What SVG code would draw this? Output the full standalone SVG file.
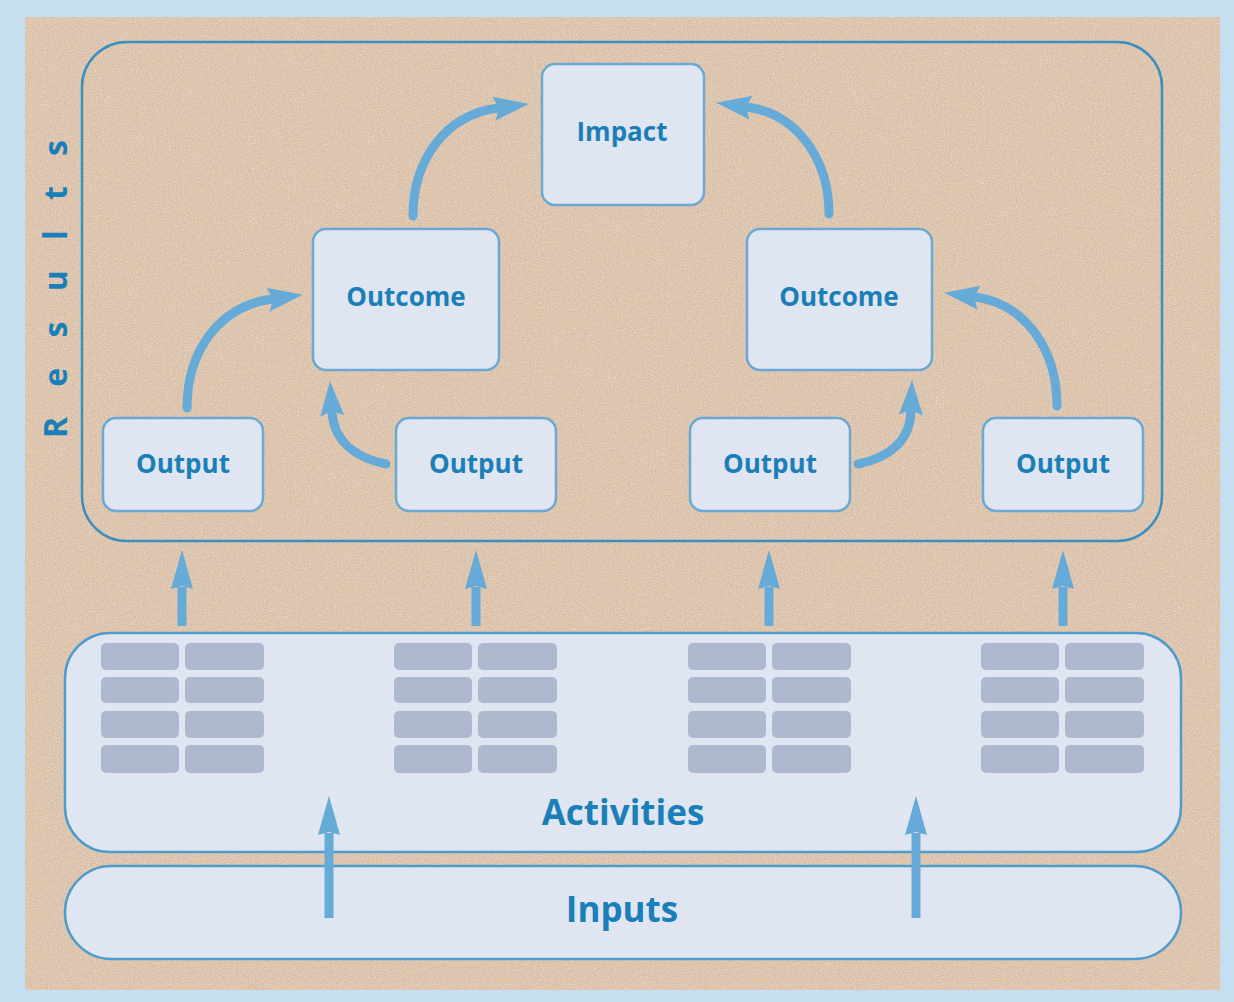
<svg xmlns="http://www.w3.org/2000/svg" width="1234" height="1002" viewBox="0 0 1234 1002">
  <defs>
    <style>
      .box { fill: #dfe5f1; stroke: #6ba8d3; stroke-width: 2.5; }
      .band { fill: #dfe5f1; stroke: #4f9ccb; stroke-width: 2.5; }
      .bar { fill: #aeb8cf; }
      .lbl { font-family: "Open Sans", "Noto Sans", "Liberation Sans", sans-serif; font-weight: bold; fill: #1a7fb8; text-anchor: middle; }
      .node { font-size: 26px; }
      .big { font-size: 35px; }
      .curve { fill: none; stroke: #66aad8; stroke-width: 9; stroke-linecap: round; marker-end: url(#headCurve); }
      .up { fill: none; stroke: #66aad8; stroke-width: 9; marker-end: url(#headStraight); }
    </style>
    <marker id="headCurve" markerUnits="userSpaceOnUse" viewBox="0 -13 38 26" refX="4" refY="0" markerWidth="38" markerHeight="26" orient="auto" overflow="visible">
      <path d="M0,-12 L35,0 L0,12 L5,0 Z" fill="#66aad8"/>
    </marker>
    <marker id="headStraight" markerUnits="userSpaceOnUse" viewBox="0 -12 42 24" refX="2" refY="0" markerWidth="42" markerHeight="24" orient="auto" overflow="visible">
      <path d="M0,-11 L39,0 L0,11 L3,0 Z" fill="#66aad8"/>
    </marker>
    <filter id="grain" x="0" y="0" width="100%" height="100%">
      <feTurbulence type="fractalNoise" baseFrequency="0.85" numOctaves="2" seed="7" result="n"/>
      <feColorMatrix in="n" type="matrix" values="0 0 0 0 1  0 0 0 0 1  0 0 0 0 1  0.5 0.5 0.5 0 -0.62"/>
    </filter>
  </defs>

  <!-- frame and sandy backdrop -->
  <rect x="0" y="0" width="1234" height="1002" fill="#c6dff0"/>
  <rect x="25" y="17" width="1195" height="973" fill="#d8bda3"/>
  <rect x="25" y="17" width="1195" height="973" filter="url(#grain)"/>

  <!-- results area -->
  <g id="results">
    <rect x="82" y="42" width="1080" height="499" rx="45" ry="45" fill="none" stroke="#3a8ec0" stroke-width="2.5"/>
    <text class="lbl" style="font-size:32px; text-anchor:start" transform="translate(67,438) rotate(-90)" textLength="298" lengthAdjust="spacing">Results</text>
  </g>

  <g id="impact">
    <rect class="box" x="542" y="64" width="162" height="141" rx="13"/>
    <text class="lbl node" x="622" y="141">Impact</text>
  </g>
  <g id="outcome-left">
    <rect class="box" x="313" y="229" width="186" height="141" rx="13"/>
    <text class="lbl node" x="406" y="306">Outcome</text>
  </g>
  <g id="outcome-right">
    <rect class="box" x="747" y="229" width="185" height="141" rx="13"/>
    <text class="lbl node" x="839" y="306">Outcome</text>
  </g>
  <g id="output-1">
    <rect class="box" x="103" y="418" width="160" height="93" rx="13"/>
    <text class="lbl node" x="183" y="473">Output</text>
  </g>
  <g id="output-2">
    <rect class="box" x="396" y="418" width="160" height="93" rx="13"/>
    <text class="lbl node" x="476" y="473">Output</text>
  </g>
  <g id="output-3">
    <rect class="box" x="690" y="418" width="160" height="93" rx="13"/>
    <text class="lbl node" x="770" y="473">Output</text>
  </g>
  <g id="output-4">
    <rect class="box" x="983" y="418" width="160" height="93" rx="13"/>
    <text class="lbl node" x="1063" y="473">Output</text>
  </g>

  <!-- activities band with task blocks -->
  <g id="activities">
    <rect class="band" x="65" y="633" width="1116" height="219" rx="45" ry="45"/>
    <g id="tasks">
      <g transform="translate(101,643)">
        <rect class="bar" x="0" y="0" width="78" height="27" rx="5"/><rect class="bar" x="84" y="0" width="79" height="27" rx="5"/>
        <rect class="bar" x="0" y="34" width="78" height="26" rx="5"/><rect class="bar" x="84" y="34" width="79" height="26" rx="5"/>
        <rect class="bar" x="0" y="68" width="78" height="27" rx="5"/><rect class="bar" x="84" y="68" width="79" height="27" rx="5"/>
        <rect class="bar" x="0" y="102" width="78" height="28" rx="5"/><rect class="bar" x="84" y="102" width="79" height="28" rx="5"/>
      </g>
      <g transform="translate(394,643)">
        <rect class="bar" x="0" y="0" width="78" height="27" rx="5"/><rect class="bar" x="84" y="0" width="79" height="27" rx="5"/>
        <rect class="bar" x="0" y="34" width="78" height="26" rx="5"/><rect class="bar" x="84" y="34" width="79" height="26" rx="5"/>
        <rect class="bar" x="0" y="68" width="78" height="27" rx="5"/><rect class="bar" x="84" y="68" width="79" height="27" rx="5"/>
        <rect class="bar" x="0" y="102" width="78" height="28" rx="5"/><rect class="bar" x="84" y="102" width="79" height="28" rx="5"/>
      </g>
      <g transform="translate(688,643)">
        <rect class="bar" x="0" y="0" width="78" height="27" rx="5"/><rect class="bar" x="84" y="0" width="79" height="27" rx="5"/>
        <rect class="bar" x="0" y="34" width="78" height="26" rx="5"/><rect class="bar" x="84" y="34" width="79" height="26" rx="5"/>
        <rect class="bar" x="0" y="68" width="78" height="27" rx="5"/><rect class="bar" x="84" y="68" width="79" height="27" rx="5"/>
        <rect class="bar" x="0" y="102" width="78" height="28" rx="5"/><rect class="bar" x="84" y="102" width="79" height="28" rx="5"/>
      </g>
      <g transform="translate(981,643)">
        <rect class="bar" x="0" y="0" width="78" height="27" rx="5"/><rect class="bar" x="84" y="0" width="79" height="27" rx="5"/>
        <rect class="bar" x="0" y="34" width="78" height="26" rx="5"/><rect class="bar" x="84" y="34" width="79" height="26" rx="5"/>
        <rect class="bar" x="0" y="68" width="78" height="27" rx="5"/><rect class="bar" x="84" y="68" width="79" height="27" rx="5"/>
        <rect class="bar" x="0" y="102" width="78" height="28" rx="5"/><rect class="bar" x="84" y="102" width="79" height="28" rx="5"/>
      </g>
    </g>
    <text class="lbl big" x="623" y="825">Activities</text>
  </g>

  <g id="inputs">
    <rect class="band" x="65" y="866" width="1116" height="93" rx="46.5" ry="46.5"/>
    <text class="lbl big" x="622" y="922">Inputs</text>
  </g>

  <!-- connectors -->
  <g id="connectors">
    <path class="curve" d="M187,408 C187,350 220,306 272,299"/>
    <path class="curve" d="M386,464 C356,458 334,442 332,412"/>
    <path class="curve" d="M413,216 C413,160 445,115 498,108"/>
    <path class="curve" d="M829,214 C829,160 798,114 747,107"/>
    <path class="curve" d="M858,464 C888,458 910,442 911,411"/>
    <path class="curve" d="M1057,406 C1057,350 1026,304 975,297"/>

    <path class="up" d="M182,626 L182,587"/>
    <path class="up" d="M476,626 L476,587"/>
    <path class="up" d="M769,626 L769,587"/>
    <path class="up" d="M1063,626 L1063,587"/>

    <path class="up" d="M329,918 L329,833"/>
    <path class="up" d="M916,918 L916,833"/>
  </g>
</svg>
